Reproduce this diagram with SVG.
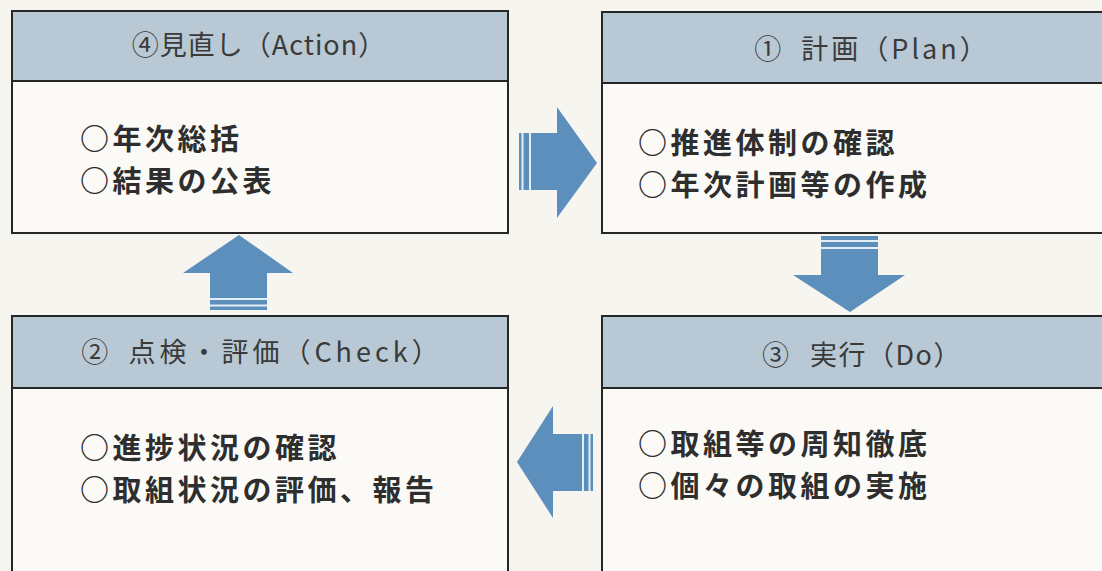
<svg xmlns="http://www.w3.org/2000/svg" width="1102" height="571" viewBox="0 0 1102 571">
  <style>
    .box { fill: #fbfaf6; stroke: #262626; stroke-width: 2; }
    .hdr { fill: #b8c9d5; stroke: #262626; stroke-width: 2; }
    .htxt { font-family: "Noto Sans CJK JP", "Noto Sans", sans-serif; font-size: 27px; fill: #3a3a3a; text-anchor: middle; }
    .btxt { font-family: "Noto Sans CJK JP", "Noto Sans", sans-serif; font-size: 29px; font-weight: 700; fill: #2e2e2e; letter-spacing: 3.5px; }
    .arrow { fill: #5d8fbd; }
    .gap { fill: #e4eef6; }
  </style>
  <rect x="0" y="0" width="1102" height="571" fill="#f7f5f0"/>

  <g id="node-action">
    <rect class="box" x="12" y="11" width="496" height="222"/>
    <rect class="hdr" x="12" y="11" width="496" height="70"/>
    <text class="htxt" x="259" y="55" style="letter-spacing:1px">④見直し（Action）</text>
    <text class="btxt" x="80" y="150">○年次総括</text>
    <text class="btxt" x="80" y="192">○結果の公表</text>
  </g>

  <g id="node-plan">
    <rect class="box" x="602" y="12" width="520" height="221"/>
    <rect class="hdr" x="602" y="12" width="520" height="71"/>
    <text class="htxt" x="872" y="59" style="letter-spacing:3px; word-spacing:8px">① 計画（Plan）</text>
    <text class="btxt" x="638" y="154">○推進体制の確認</text>
    <text class="btxt" x="638" y="196">○年次計画等の作成</text>
  </g>

  <g id="node-check">
    <rect class="box" x="12" y="316" width="496" height="280"/>
    <rect class="hdr" x="12" y="316" width="496" height="72"/>
    <text class="htxt" x="262" y="362" style="letter-spacing:4px; word-spacing:6px">② 点検・評価（Check）</text>
    <text class="btxt" x="80" y="459">○進捗状況の確認</text>
    <text class="btxt" x="80" y="501">○取組状況の評価、報告</text>
  </g>

  <g id="node-do">
    <rect class="box" x="602" y="316" width="520" height="280"/>
    <rect class="hdr" x="602" y="316" width="520" height="72"/>
    <text class="htxt" x="862" y="365" style="letter-spacing:1.5px; word-spacing:12px">③ 実行（Do）</text>
    <text class="btxt" x="638" y="455">○取組等の周知徹底</text>
    <text class="btxt" x="638" y="497">○個々の取組の実施</text>
  </g>

  <g id="connectors">
    <!-- right arrow: Action -> Plan -->
    <path class="arrow" d="M519,133 L557,133 L557,107 L597,163 L557,218 L557,190 L519,190 Z"/>
    <rect class="gap" x="521.5" y="133" width="2" height="57"/>
    <rect class="gap" x="529" y="133" width="2" height="57"/>
    <!-- down arrow: Plan -> Do -->
    <path class="arrow" d="M821,236 L878,236 L878,275 L905,275 L850,312 L793,275 L821,275 Z"/>
    <rect class="gap" x="821" y="240" width="57" height="2"/>
    <rect class="gap" x="821" y="247" width="57" height="2"/>
    <!-- left arrow: Do -> Check -->
    <path class="arrow" d="M593,434 L553,434 L553,406 L517,462 L553,518 L553,491 L593,491 Z"/>
    <rect class="gap" x="582" y="434" width="2" height="57"/>
    <rect class="gap" x="588.5" y="434" width="2" height="57"/>
    <!-- up arrow: Check -> Action -->
    <path class="arrow" d="M210,310 L210,273 L183,273 L239,235 L293,273 L267,273 L267,310 Z"/>
    <rect class="gap" x="210" y="298" width="57" height="2"/>
    <rect class="gap" x="210" y="304.5" width="57" height="2"/>
  </g>
</svg>
